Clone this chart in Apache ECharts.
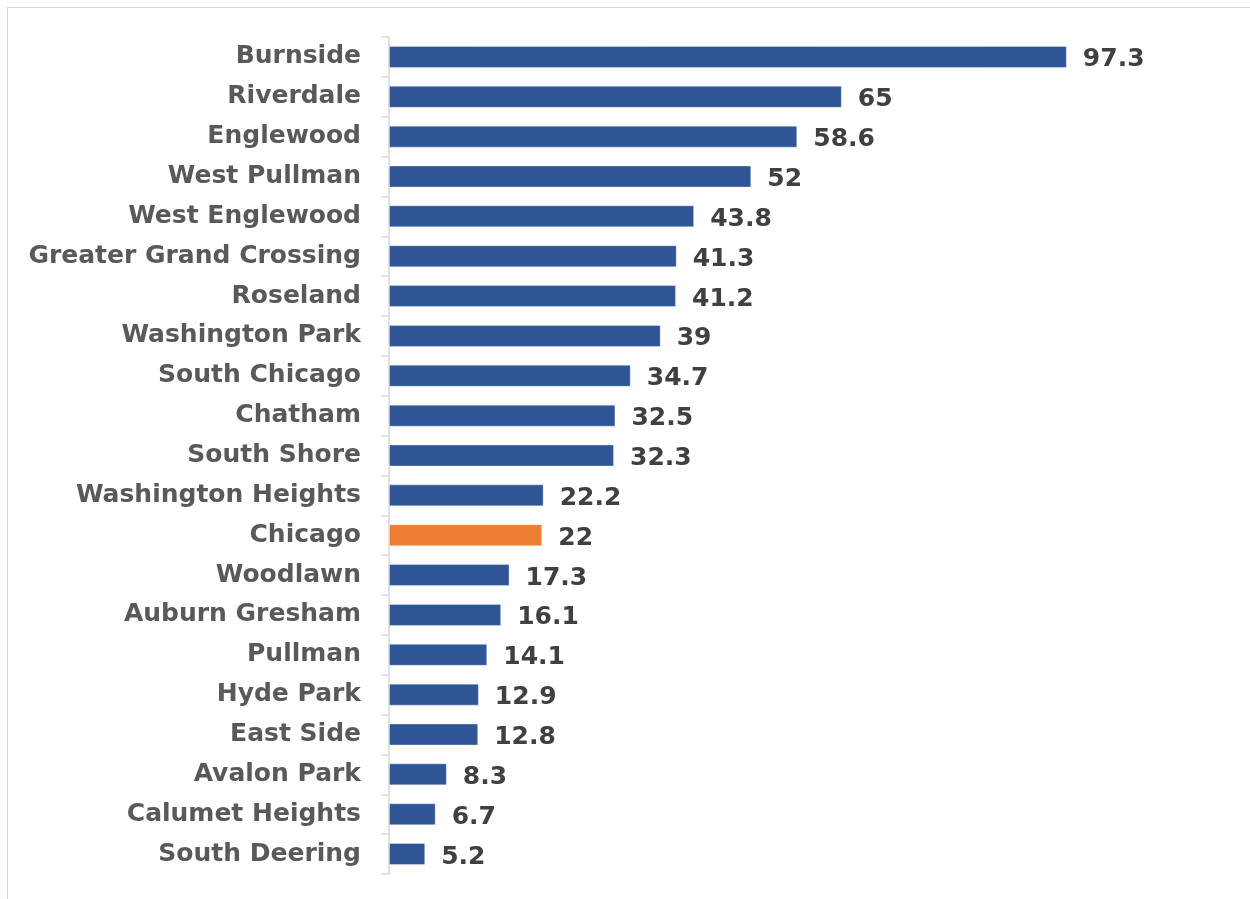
<!DOCTYPE html>
<html>
<head>
<meta charset="utf-8">
<script src="https://cdn.jsdelivr.net/npm/echarts@6/dist/echarts.min.js"></script>
<style>
  html, body { margin: 0; padding: 0; background: #ffffff; }
  #frame { position: absolute; left: 7px; top: 7px; width: 1260px; height: 910px; border: 1px solid #d9d9d9; box-sizing: border-box; }
  #chart { position: absolute; left: 0; top: 0; width: 1250px; height: 899px; }
</style>
</head>
<body>
<div id="frame"></div>
<div id="chart"></div>
<script>
// Community areas, listed top to bottom
const areas = [
  'Burnside', 'Riverdale', 'Englewood', 'West Pullman', 'West Englewood',
  'Greater Grand Crossing', 'Roseland', 'Washington Park', 'South Chicago',
  'Chatham', 'South Shore', 'Washington Heights', 'Chicago', 'Woodlawn',
  'Auburn Gresham', 'Pullman', 'Hyde Park', 'East Side', 'Avalon Park',
  'Calumet Heights', 'South Deering'
];
const rates = [
  97.3, 65, 58.6, 52, 43.8,
  41.3, 41.2, 39, 34.7,
  32.5, 32.3, 22.2, 22, 17.3,
  16.1, 14.1, 12.9, 12.8, 8.3,
  6.7, 5.2
];
// The citywide figure is highlighted
const highlight = 'Chicago';

const BLUE = '#2f5597';
const ORANGE = '#ed7d31';
const FONT = '"DejaVu Sans", sans-serif';

const chart = echarts.init(document.getElementById('chart'), null, { renderer: 'canvas' });
chart.setOption({
  animation: false,
  grid: { left: 389, right: 25, top: 37, bottom: 25, containLabel: false },
  xAxis: {
    type: 'value', min: 0, max: 120, show: false
  },
  yAxis: {
    type: 'category',
    inverse: true,
    data: areas,
    axisLine: { show: true, lineStyle: { color: '#d9d9d9', width: 1.5 } },
    axisTick: { show: true, inside: false, length: 8, lineStyle: { color: '#d9d9d9', width: 1.5 } },
    axisLabel: {
      margin: 28,
      color: '#595959',
      fontFamily: FONT,
      fontWeight: 'bold',
      fontSize: 25,
      padding: [4, 0, 0, 0]
    },
    splitLine: { show: false }
  },
  series: [{
    type: 'bar',
    data: rates.map((v, i) => ({
      value: v,
      itemStyle: { color: areas[i] === highlight ? ORANGE : BLUE }
    })),
    barWidth: 22,
    itemStyle: { borderColor: 'rgba(255,255,255,0.35)', borderWidth: 1 },
    label: {
      show: true,
      position: 'right',
      distance: 16,
      color: '#404040',
      fontFamily: FONT,
      fontWeight: 'bold',
      fontSize: 25,
      offset: [0, 3]
    }
  }]
});
</script>
</body>
</html>
